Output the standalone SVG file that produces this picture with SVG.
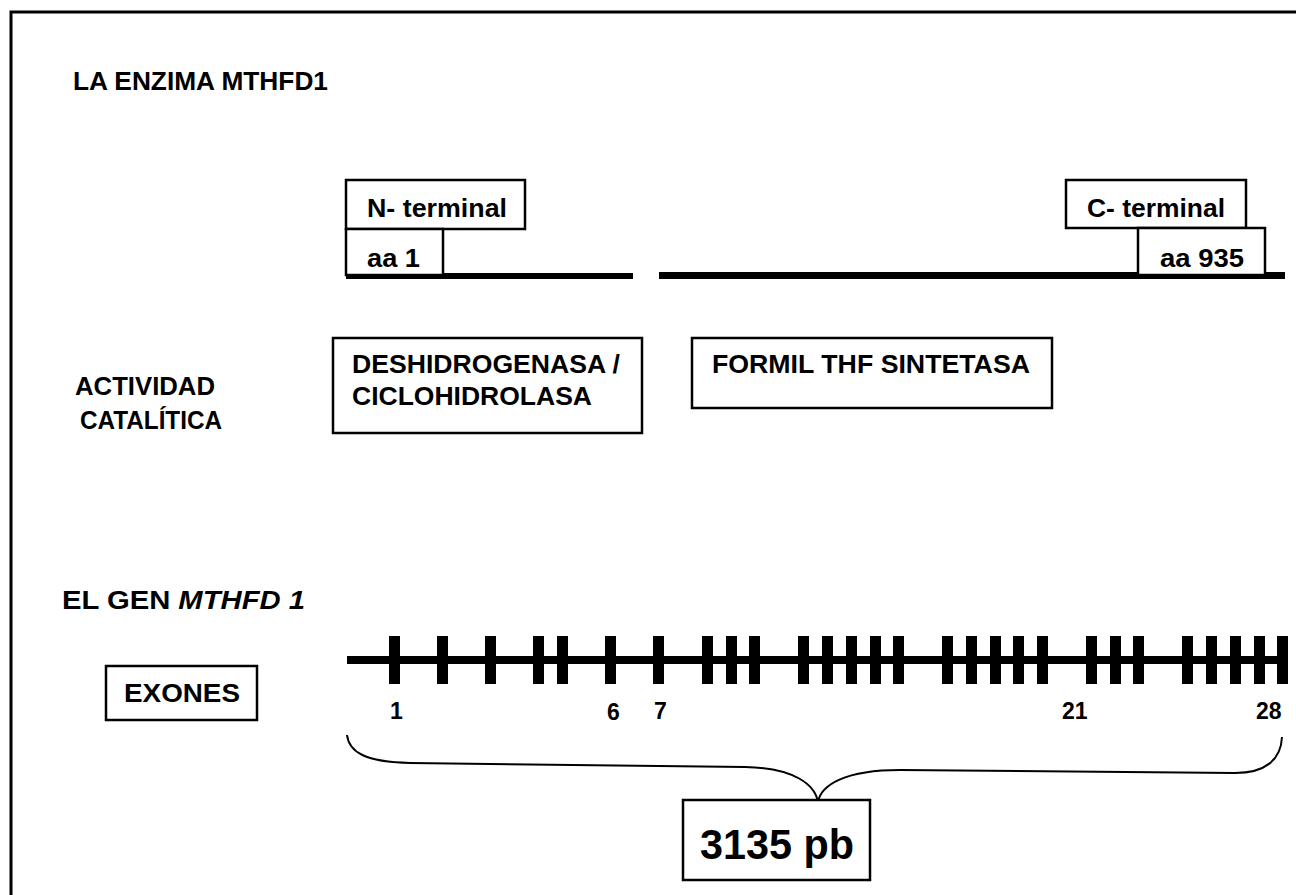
<svg xmlns="http://www.w3.org/2000/svg" width="1296" height="895" viewBox="0 0 1296 895">
<style>
.box{fill:#fff;stroke:#000;stroke-width:2.5}
.t{font-family:"Liberation Sans",Arial,sans-serif;font-weight:bold;font-size:25px;fill:#000}
.n{font-family:"Liberation Sans",Arial,sans-serif;font-weight:bold;font-size:23px;fill:#000}
.big{font-family:"Liberation Sans",Arial,sans-serif;font-weight:bold;font-size:42px;fill:#000}
.ex{fill:#000}
</style>
<rect x="0" y="0" width="1296" height="895" fill="#fff"/>
<rect x="11" y="12" width="1300" height="900" fill="none" stroke="#000" stroke-width="3"/>
<g id="title-enzima"><text class="t" x="73" y="90" textLength="255" lengthAdjust="spacingAndGlyphs">LA ENZIMA MTHFD1</text></g>
<g id="protein">
<rect x="346" y="273" width="287" height="6" fill="#000"/>
<rect x="659" y="272" width="626" height="7" fill="#000"/>
</g>
<g id="n-terminal"><rect class="box" x="346" y="180" width="179" height="49"/><text class="t" x="367" y="217" textLength="140" lengthAdjust="spacingAndGlyphs">N- terminal</text></g>
<g id="aa1"><rect class="box" x="346" y="229" width="97" height="46"/><text class="t" x="367" y="267" textLength="53" lengthAdjust="spacingAndGlyphs">aa 1</text></g>
<g id="c-terminal"><rect class="box" x="1066" y="180" width="180" height="48"/><text class="t" x="1087" y="217" textLength="138" lengthAdjust="spacingAndGlyphs">C- terminal</text></g>
<g id="aa935"><rect class="box" x="1138" y="228" width="127" height="47"/><text class="t" x="1160" y="267" textLength="84" lengthAdjust="spacingAndGlyphs">aa 935</text></g>
<g id="actividad"><text class="t" x="75" y="395" textLength="140" lengthAdjust="spacingAndGlyphs">ACTIVIDAD</text><text class="t" x="80" y="429" textLength="142" lengthAdjust="spacingAndGlyphs">CATALÍTICA</text></g>
<g id="deshidrogenasa"><rect class="box" x="333" y="338" width="309" height="95"/><text class="t" x="352" y="373" textLength="268" lengthAdjust="spacingAndGlyphs">DESHIDROGENASA /</text><text class="t" x="352" y="405" textLength="240" lengthAdjust="spacingAndGlyphs">CICLOHIDROLASA</text></g>
<g id="formil"><rect class="box" x="692" y="338" width="360" height="70"/><text class="t" x="712" y="373" textLength="318" lengthAdjust="spacingAndGlyphs">FORMIL THF SINTETASA</text></g>
<g id="title-gen"><text class="t" x="62" y="609" textLength="243" lengthAdjust="spacingAndGlyphs">EL GEN <tspan font-style="italic">MTHFD 1</tspan></text></g>
<g id="exones"><rect class="box" x="106" y="666" width="151" height="54"/><text class="t" x="124" y="702" textLength="116" lengthAdjust="spacingAndGlyphs">EXONES</text></g>
<g id="gene">
<rect x="347" y="656" width="940" height="8" fill="#000"/>
<g class="ex">
<rect x="389" y="636" width="11" height="48"/><rect x="437" y="636" width="11" height="48"/><rect x="485" y="636" width="11" height="48"/><rect x="533" y="636" width="11" height="48"/><rect x="557" y="636" width="11" height="48"/><rect x="605" y="636" width="11" height="48"/><rect x="653" y="636" width="11" height="48"/><rect x="702" y="636" width="11" height="48"/><rect x="726" y="636" width="11" height="48"/><rect x="749" y="636" width="11" height="48"/><rect x="798" y="636" width="11" height="48"/><rect x="822" y="636" width="11" height="48"/><rect x="846" y="636" width="11" height="48"/><rect x="870" y="636" width="11" height="48"/><rect x="893" y="636" width="11" height="48"/><rect x="942" y="636" width="11" height="48"/><rect x="966" y="636" width="11" height="48"/><rect x="990" y="636" width="11" height="48"/><rect x="1013" y="636" width="11" height="48"/><rect x="1037" y="636" width="11" height="48"/><rect x="1086" y="636" width="11" height="48"/><rect x="1110" y="636" width="11" height="48"/><rect x="1133" y="636" width="11" height="48"/><rect x="1182" y="636" width="11" height="48"/><rect x="1206" y="636" width="11" height="48"/><rect x="1230" y="636" width="11" height="48"/><rect x="1254" y="636" width="11" height="48"/><rect x="1277" y="636" width="11" height="48"/>
</g>
<text class="n" x="390" y="719">1</text>
<text class="n" x="607" y="720">6</text>
<text class="n" x="654" y="719">7</text>
<text class="n" x="1062" y="719">21</text>
<text class="n" x="1256" y="719">28</text>
</g>
<g id="connectors">
<path d="M 347 735 C 349 752 365 762 410 763 L 745 767 C 795 768 815 785 818 802 C 821 785 845 770 900 770 L 1235 773 C 1265 773 1281 760 1282 737" fill="none" stroke="#000" stroke-width="2"/>
</g>
<g id="size"><rect class="box" x="683" y="800" width="187" height="80"/><text class="big" x="700" y="859" textLength="154" lengthAdjust="spacingAndGlyphs">3135 pb</text></g>
</svg>
